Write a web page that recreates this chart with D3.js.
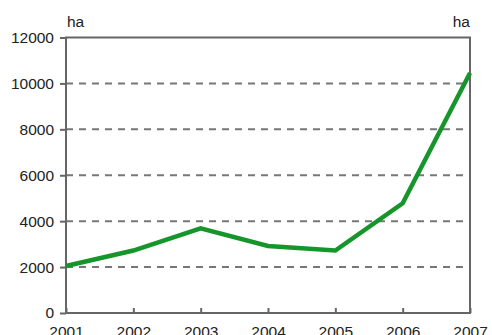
<!DOCTYPE html>
<html><head><meta charset="utf-8">
<script src="https://cdn.jsdelivr.net/npm/d3@7"></script>
<style>body{margin:0;background:#fff}svg{display:block}text{font-family:"Liberation Sans",Arial,sans-serif;fill:#222}</style>
</head><body>
<script>
const years = [2001, 2002, 2003, 2004, 2005, 2006, 2007];
const values = [2050, 2720, 3690, 2920, 2720, 4780, 10450];
const yTicks = [0, 2000, 4000, 6000, 8000, 10000, 12000];
const unitLabel = "ha";

const W = 492, H = 335;
const m = {left: 66, right: 22, top: 37.5, bottom: 22};
const svg = d3.select("body").append("svg").attr("width", W).attr("height", H);
const x = d3.scaleLinear().domain([2001, 2007]).range([m.left, W - m.right]);
const y = d3.scaleLinear().domain([0, 12000]).range([H - m.bottom, m.top]);

// gridlines
svg.append("g").selectAll("line").data(yTicks.filter(d => d > 0 && d < 12000)).join("line")
  .attr("x1", m.left).attr("x2", W - m.right)
  .attr("y1", d => y(d)).attr("y2", d => y(d))
  .attr("stroke", "#777").attr("stroke-width", 2).attr("stroke-dasharray", "7,6");

// frame
svg.append("rect").attr("x", m.left).attr("y", m.top)
  .attr("width", W - m.right - m.left).attr("height", H - m.bottom - m.top)
  .attr("fill", "none").attr("stroke", "#666").attr("stroke-width", 2);

// y axis
const yAxis = svg.append("g").attr("transform", `translate(${m.left},0)`)
  .call(d3.axisLeft(y).tickValues(yTicks).tickSize(6).tickPadding(6).tickFormat(d3.format("d")));
yAxis.select(".domain").remove();
yAxis.selectAll("line").attr("stroke", "#666").attr("stroke-width", 2);
yAxis.selectAll("text").style("font-size", "15.5px").attr("fill", "#222")
  .style("font-family", '"Liberation Sans",Arial,sans-serif');

// x axis
const xAxis = svg.append("g").attr("transform", `translate(0,${H - m.bottom})`)
  .call(d3.axisBottom(x).tickValues(years).tickSize(-5).tickPadding(13).tickFormat(d3.format("d")));
xAxis.select(".domain").remove();
xAxis.selectAll("line").attr("stroke", "#666").attr("stroke-width", 2);
xAxis.selectAll("text").style("font-size", "15.5px").attr("fill", "#222")
  .style("font-family", '"Liberation Sans",Arial,sans-serif');

// unit labels
svg.append("text").attr("x", m.left + 1).attr("y", 27).style("font-size", "15.5px").text(unitLabel);
svg.append("text").attr("x", W - m.right).attr("y", 27).attr("text-anchor", "end").style("font-size", "15.5px").text(unitLabel);

// line
const line = d3.line().x((d, i) => x(years[i])).y(d => y(d));
svg.append("path").datum(values).attr("d", line)
  .attr("fill", "none").attr("stroke", "#16962a").attr("stroke-width", 4.5)
  .attr("stroke-linejoin", "miter");
</script>
</body></html>
